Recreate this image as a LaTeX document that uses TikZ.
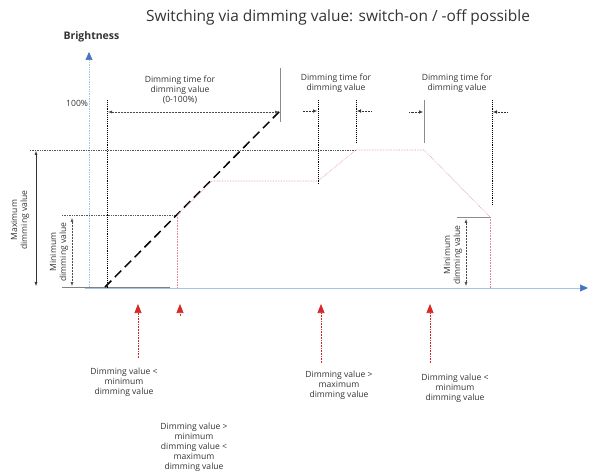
\documentclass[tikz,border=0pt]{standalone}
\usepackage{fontspec}
\setmainfont{Open Sans}
\usetikzlibrary{arrows.meta}
\definecolor{axisblue}{RGB}{165,195,228}
\definecolor{tipblue}{RGB}{70,115,195}
\definecolor{markred}{RGB}{215,40,40}
\definecolor{curvepink}{RGB}{225,140,150}
\tikzstyle{axisline}=[axisblue,line width=0.7pt,-{Triangle[tipblue,length=8bp,width=7bp]}]
\tikzstyle{levelline}=[black!65,densely dotted,line width=0.7pt]
\tikzstyle{timeline}=[black,densely dotted,line width=0.9pt]
\tikzstyle{markline}=[black!45,line width=0.5pt]
\tikzstyle{ramp}=[black,line width=1.5pt,dash pattern=on 9bp off 5bp]
\tikzstyle{curve}=[curvepink,densely dotted,line width=0.6pt]
\tikzstyle{dimarc}=[{Latex[length=4bp,width=3bp]}-{Latex[length=4bp,width=3bp]},black!70,densely dotted,line width=0.5pt]
\tikzstyle{timearc}=[-{Latex[length=4bp,width=3.5bp]},black!80,densely dotted,line width=0.5pt]
\tikzstyle{eventarc}=[-{Triangle[length=9bp,width=7bp]},markred,densely dotted,line width=0.6pt]
\tikzstyle{arclabel}=[font=\fontsize{8.6}{10}\selectfont,text=black!80,align=center,inner sep=0pt]
\tikzstyle{sidelabel}=[arclabel,rotate=90]

\begin{document}
\begin{tikzpicture}[x=1bp,y=-1bp]
\useasboundingbox (0,0) rectangle (595,476);

\node[font=\fontsize{15.5}{17}\selectfont,text=black!80] (title) at (338,17) {Switching via dimming value: switch-on / -off possible};
\node[font=\bfseries\fontsize{10.5}{12}\selectfont,text=black!80,anchor=west] (ylabel) at (60,37) {Brightness};

% axes
\coordinate (O) at (89,288);
\draw[axisline,densely dotted] (O) -- (89,52);
\draw[axisline] (85,288) -- (588,288);
\draw[black!50,line width=0.8pt] (62,287) -- (170,287);

% levels
\draw[levelline] (30,150) -- (356,150);
\draw[levelline] (62,215) -- (177,215);
\draw[markline] (457,217) -- (491,217);

% ramp 0-100%
\coordinate (R0) at (105,287);
\coordinate (R1) at (280,111);
\draw[ramp] (R0) -- (R1);
\draw[timeline] (107,100) -- (107,288);
\draw[markline] (280,68) -- (280,122);
\draw[dimarc] (108,112) -- (279,112);
\node[arclabel] (T1) at (180,90) {Dimming time for\\dimming value\\(0-100\%)};
\node[arclabel,anchor=west] (P100) at (66,103) {100\%};

% brightness curve
\coordinate (C1) at (177,215);
\coordinate (C2) at (212,181);
\coordinate (C3) at (318,181);
\coordinate (C4) at (356,150);
\coordinate (C5) at (424,150);
\coordinate (C6) at (490,217);
\draw[curve] (C1) -- (C2) -- (C3) -- (C4) -- (C5) -- (C6);
\draw[curve] (C1) -- (177,288);
\draw[curve] (C6) -- (490,288);

% dimming times
\draw[timeline] (318,100) -- (318,184);
\draw[timeline] (356,100) -- (356,143);
\draw[markline] (424,100) -- (424,143);
\draw[timeline] (492,100) -- (492,205);
\draw[timearc] (303,111) -- (317,111);
\draw[timearc] (371,111) -- (357,111);
\draw[timearc] (409,112) -- (423,112);
\draw[timearc] (507,112) -- (493,112);
\node[arclabel] (T2) at (336,83) {Dimming time for\\dimming value};
\node[arclabel] (T3) at (457,83) {Dimming time for\\dimming value};

% dimensions
\draw[{Latex[length=4bp,width=3bp]}-{Latex[length=4bp,width=3bp]},black!80,line width=0.5pt] (36,151) -- (36,286);
\node[sidelabel] (Dmax) at (20,220) {Maximum\\dimming value};
\draw[dimarc] (72,218) -- (72,286);
\node[sidelabel] (Dmin1) at (59,252) {Minimum\\dimming value};
\draw[dimarc] (466,219) -- (466,286);
\node[sidelabel] (Dmin2) at (453,255) {Minimum\\dimming value};

% events
\draw[eventarc] (138,358) -- (138,304);
\draw[eventarc] (180,316) -- (180,304);
\draw[eventarc] (321,363) -- (321,304);
\draw[eventarc] (430,363) -- (430,304);
\node[arclabel] (E1) at (124,382) {Dimming value <\\minimum\\dimming value};
\node[arclabel] (E2) at (194,447) {Dimming value >\\minimum\\dimming value <\\maximum\\dimming value};
\node[arclabel] (E3) at (339,385) {Dimming value >\\maximum\\dimming value};
\node[arclabel] (E4) at (455,388) {Dimming value <\\minimum\\dimming value};

\end{tikzpicture}
\end{document}
